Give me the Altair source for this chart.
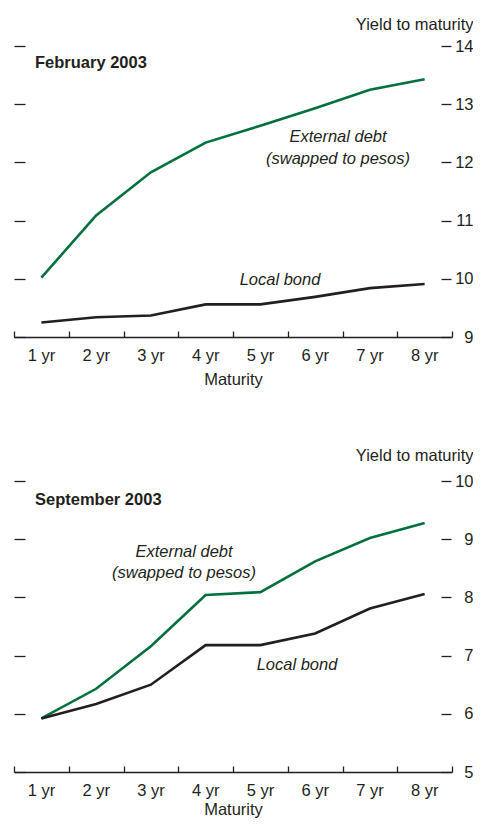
import altair as alt
import pandas as pd

# ---- data ----
maturities = ["1 yr", "2 yr", "3 yr", "4 yr", "5 yr", "6 yr", "7 yr", "8 yr"]
series_keys = ["External", "Local"]

feb_external = [10.02, 11.09, 11.83, 12.34, 12.63, 12.93, 13.25, 13.43]
feb_local = [9.25, 9.34, 9.37, 9.56, 9.56, 9.69, 9.84, 9.91]
sep_external = [5.92, 6.43, 7.16, 8.04, 8.09, 8.62, 9.02, 9.28]
sep_local = [5.92, 6.17, 6.50, 7.18, 7.18, 7.38, 7.81, 8.06]

feb_ticks = [9, 10, 11, 12, 13, 14]
sep_ticks = [5, 6, 7, 8, 9, 10]

# ---- style / layout ----
FONT = "Liberation Sans, Arial, sans-serif"
INK = "#231f20"
GREEN = "#00703c"
FS = 16.5
W = 438          # plot width
PH = 291         # height of one panel
GAP = 144        # gap between the two panels' plot areas
H = PH + GAP + PH
TOP2 = PH + GAP  # top of panel 2 in plot coordinates


def text_layer(label, x, y, italic=False, bold=False, align="center"):
    return alt.Chart(pd.DataFrame({"label": [label]})).mark_text(
        font=FONT, fontSize=FS,
        fontStyle="italic" if italic else "normal",
        fontWeight="bold" if bold else "normal",
        color=INK, align=align, baseline="alphabetic",
    ).encode(text="label:N", x=alt.value(x), y=alt.value(y))


xscale = alt.Scale(type="band", domain=maturities, paddingInner=0, paddingOuter=0)
color = alt.Color("series:N", scale=alt.Scale(domain=series_keys, range=[GREEN, INK]), legend=None)


def panel_layers(external, local, ticks, top, title_y, maturity_y):
    df = pd.DataFrame({
        "maturity": maturities * 2,
        "series": [series_keys[0]] * len(maturities) + [series_keys[1]] * len(maturities),
        "yield": external + local,
    })
    bottom = top + PH
    yscale = alt.Scale(domain=[ticks[0], ticks[-1]], range=[bottom, top], nice=False, zero=False)

    x_bottom = alt.X("maturity:N", scale=xscale, sort=maturities, axis=alt.Axis(
        orient="bottom", offset=-(H - bottom), ticks=False, tickSize=0,
        domain=True, domainColor=INK, domainWidth=1.3,
        labelAngle=0, labelFont=FONT, labelFontSize=FS, labelColor=INK,
        labelBaseline="alphabetic", labelPadding=23,
        title="Maturity", titleFont=FONT, titleFontSize=FS, titleFontWeight="normal",
        titleColor=INK, titleBaseline="alphabetic", titleAlign="center",
        titleX=W / 2, titleY=maturity_y, grid=False))
    x_ticks = alt.X("maturity:N", scale=xscale, sort=maturities, axis=alt.Axis(
        orient="top", offset=-bottom, domain=False, ticks=True, tickBand="extent",
        tickSize=6, tickColor=INK, tickWidth=1.3, labels=False, title=None, grid=False))

    y_right = alt.Y("yield:Q", scale=yscale, axis=alt.Axis(
        orient="right", offset=-11, domain=False, ticks=True, tickSize=10,
        tickColor=INK, tickWidth=1.3, values=ticks, grid=False,
        labelFont=FONT, labelFontSize=FS, labelColor=INK, labelAlign="right",
        labelBaseline="middle", labelPadding=22, labelFlush=False,
        title="Yield to maturity", titleFont=FONT, titleFontSize=FS,
        titleFontWeight="normal", titleColor=INK, titleAngle=0, titleAlign="right",
        titleBaseline="alphabetic", titleX=32, titleY=top + title_y))
    y_left = alt.Y("yield:Q", scale=yscale, axis=alt.Axis(
        orient="left", offset=-11, domain=False, ticks=True, tickSize=11,
        tickColor=INK, tickWidth=1.3, values=ticks, labels=False, title=None, grid=False))

    base = alt.Chart(df)
    aux = base.mark_line(strokeOpacity=0).encode(x=x_ticks, y=y_left, color=color)
    lines = base.mark_line(strokeWidth=2.6).encode(x=x_bottom, y=y_right, color=color)
    return [aux, lines]


layers = []
layers += panel_layers(feb_external, feb_local, feb_ticks, 0, -16.3, 47)
layers += panel_layers(sep_external, sep_local, sep_ticks, TOP2, -21, 42)

texts = [
    text_layer("February 2003", 21, 21.5, bold=True, align="left"),
    text_layer("External debt", 324, 96, italic=True),
    text_layer("(swapped to pesos)", 324, 118, italic=True),
    text_layer("Local bond", 266, 239, italic=True),
    text_layer("September 2003", 21, TOP2 + 23.5, bold=True, align="left"),
    text_layer("External debt", 170, TOP2 + 76, italic=True),
    text_layer("(swapped to pesos)", 170, TOP2 + 97, italic=True),
    text_layer("Local bond", 283, TOP2 + 189, italic=True),
]

chart = alt.layer(*layers, *texts).resolve_scale(y="independent").resolve_axis(
    x="independent", y="independent").properties(
    width=W, height=H,
    autosize=alt.AutoSizeParams(type="none"),
    padding={"left": 6, "top": 38, "right": 21, "bottom": 47},
).configure_view(stroke=None)

chart.save("out.html", embed_options={"renderer": "svg", "actions": False})
